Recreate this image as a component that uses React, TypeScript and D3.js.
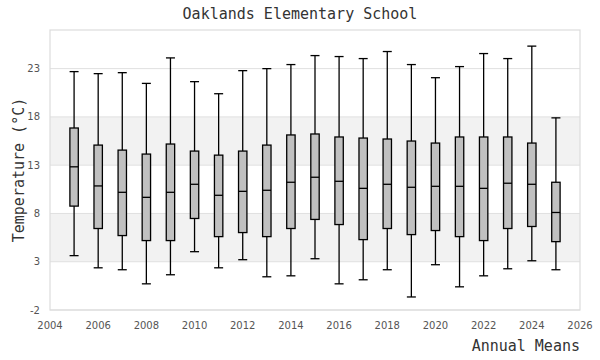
import React from "react";
import * as d3 from "d3";

const years = [2005, 2006, 2007, 2008, 2009, 2010, 2011, 2012, 2013, 2014, 2015, 2016, 2017, 2018, 2019, 2020, 2021, 2022, 2023, 2024, 2025];
const mins = [3.63, 2.37, 2.17, 0.71, 1.65, 4.04, 2.37, 3.21, 1.44, 1.54, 3.31, 0.71, 1.13, 2.17, -0.65, 2.69, 0.4, 1.54, 2.27, 3.1, 2.17];
const q1s = [8.76, 6.44, 5.71, 5.19, 5.19, 7.48, 5.6, 6.02, 5.6, 6.44, 7.38, 6.85, 5.29, 6.44, 5.81, 6.23, 5.6, 5.19, 6.44, 6.65, 5.08];
const medians = [12.83, 10.85, 10.19, 9.67, 10.19, 11.02, 9.88, 10.29, 10.4, 11.23, 11.75, 11.33, 10.6, 11.02, 10.71, 10.81, 10.81, 10.6, 11.13, 11.02, 8.1];
const q3s = [16.85, 15.08, 14.56, 14.15, 15.19, 14.46, 14.04, 14.46, 15.08, 16.13, 16.23, 15.92, 15.81, 15.71, 15.5, 15.29, 15.92, 15.92, 15.92, 15.29, 11.23];
const maxs = [22.69, 22.48, 22.58, 21.47, 24.11, 21.65, 20.4, 22.79, 23.0, 23.42, 24.35, 24.25, 24.04, 24.77, 23.42, 22.06, 23.21, 24.56, 24.04, 25.33, 17.9];

const yTicks = [-2, 3, 8, 13, 18, 23];
const xTicks = [2004, 2006, 2008, 2010, 2012, 2014, 2016, 2018, 2020, 2022, 2024, 2026];
const bands = [[3, 8], [13, 18]];

const title = "Oaklands Elementary School";
const yTitle = "Temperature (°C)";
const xTitle = "Annual Means";

export default function App() {
  const W = 600, H = 360;
  const left = 50, right = 580, top = 30, bottom = 310;
  const x = d3.scaleLinear().domain([2004, 2026]).range([left, right]);
  const y = d3.scaleLinear().domain([-2, 27]).range([bottom, top]);
  const boxW = 8.4, capW = 9;
  const mono = "'DejaVu Sans Mono', 'Liberation Mono', monospace";
  const sans = "'DejaVu Sans', sans-serif";

  return (
    <svg width={W} height={H} style={{ position: "absolute", left: 0, top: 0, background: "#fff" }}>
      <rect x={0} y={0} width={W} height={H} fill="#fff" />
      {bands.map(([a, b], i) => (
        <rect key={"b" + i} x={left} y={y(b)} width={right - left} height={y(a) - y(b)} fill="#f2f2f2" />
      ))}
      {yTicks.map((t) => (
        <line key={"g" + t} x1={left} x2={right} y1={y(t)} y2={y(t)} stroke="#e0e0e0" strokeWidth={1} />
      ))}
      <rect x={left} y={top} width={right - left} height={bottom - top} fill="none" stroke="#dcdcdc" strokeWidth={1.2} />
      {yTicks.map((t) => (
        <text key={"yt" + t} x={left - 10} y={y(t) + 3.5} textAnchor="end" fontFamily={sans} fontSize={10} fill="#555">{t}</text>
      ))}
      {xTicks.map((t) => (
        <text key={"xt" + t} x={x(t)} y={y(-2) + 19} textAnchor="middle" fontFamily={sans} fontSize={10} fill="#555">{t}</text>
      ))}
      {years.map((yr, i) => {
        const cx = x(yr);
        return (
          <g key={"box" + yr} stroke="#000" strokeWidth={1.3}>
            <line x1={cx} x2={cx} y1={y(maxs[i])} y2={y(q3s[i])} />
            <line x1={cx} x2={cx} y1={y(q1s[i])} y2={y(mins[i])} />
            <line x1={cx - capW / 2} x2={cx + capW / 2} y1={y(maxs[i])} y2={y(maxs[i])} />
            <line x1={cx - capW / 2} x2={cx + capW / 2} y1={y(mins[i])} y2={y(mins[i])} />
            <rect x={cx - boxW / 2} y={y(q3s[i])} width={boxW} height={y(q1s[i]) - y(q3s[i])} fill="#c0c0c0" />
            <line x1={cx - boxW / 2} x2={cx + boxW / 2} y1={y(medians[i])} y2={y(medians[i])} />
          </g>
        );
      })}
      <text x={300} y={19} textAnchor="middle" fontFamily={mono} fontSize={15} fill="#333">{title}</text>
      <text transform={`translate(24,${(top + bottom) / 2}) rotate(-90)`} textAnchor="middle" fontFamily={mono} fontSize={15} fill="#333">{yTitle}</text>
      <text x={right} y={351} textAnchor="end" fontFamily={mono} fontSize={15} fill="#333">{xTitle}</text>
    </svg>
  );
}
